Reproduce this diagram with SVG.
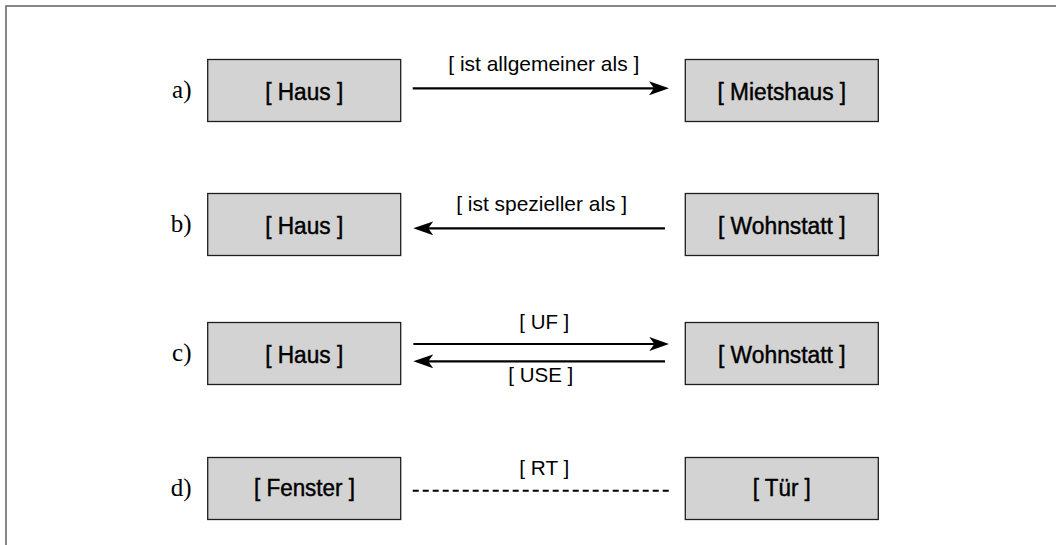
<svg xmlns="http://www.w3.org/2000/svg" width="1056" height="545" viewBox="0 0 1056 545">
  <style>
    .frame { fill: none; stroke: #6a6a6a; stroke-width: 1.6; }
    .box { fill: #d3d3d3; stroke: #1e1e1e; stroke-width: 1.3; }
    .term { font-family: "Liberation Sans", Arial, sans-serif; font-size: 23px; fill: #000; stroke: #000; stroke-width: 0.45; text-anchor: middle; }
    .tag { font-family: "Liberation Serif", "Times New Roman", serif; font-size: 25px; fill: #000; text-anchor: end; }
    .rel { font-family: "Liberation Sans", Arial, sans-serif; font-size: 21px; fill: #000; text-anchor: middle; }
    .link { fill: none; stroke: #000; stroke-width: 2.2; }
    .arrow { marker-end: url(#head); }
    .dotted { stroke-dasharray: 6 4; stroke-width: 2; }
  </style>
  <defs>
    <marker id="head" markerUnits="userSpaceOnUse" viewBox="0 0 20 14" refX="15" refY="7" markerWidth="20" markerHeight="14" orient="auto">
      <path d="M0,0 L20,7 L0,14 L5,7 Z" fill="#000"/>
    </marker>
  </defs>

  <!-- outer frame, open to the right and bottom -->
  <rect class="frame" x="6" y="6" width="1100" height="600"/>

  <!-- row labels -->
  <g id="row-labels">
    <text class="tag" x="191.5" y="98">a)</text>
    <text class="tag" x="191.5" y="232">b)</text>
    <text class="tag" x="191.5" y="361">c)</text>
    <text class="tag" x="191.5" y="496">d)</text>
  </g>

  <!-- row a -->
  <g id="a-haus">
    <rect class="box" x="207.7" y="59.5" width="193" height="62"/>
    <text class="term" x="304.2" y="99.5" textLength="78" lengthAdjust="spacingAndGlyphs">[ Haus ]</text>
  </g>
  <g id="a-mietshaus">
    <rect class="box" x="685.3" y="59.5" width="193" height="62"/>
    <text class="term" x="781.8" y="99.5" textLength="128.7" lengthAdjust="spacingAndGlyphs">[ Mietshaus ]</text>
  </g>

  <!-- row b -->
  <g id="b-haus">
    <rect class="box" x="207.7" y="193.5" width="193" height="62"/>
    <text class="term" x="304.2" y="233.5" textLength="78" lengthAdjust="spacingAndGlyphs">[ Haus ]</text>
  </g>
  <g id="b-wohnstatt">
    <rect class="box" x="685.3" y="193.5" width="193" height="62"/>
    <text class="term" x="781.8" y="233.5" textLength="127.7" lengthAdjust="spacingAndGlyphs">[ Wohnstatt ]</text>
  </g>

  <!-- row c -->
  <g id="c-haus">
    <rect class="box" x="207.7" y="322.5" width="193" height="62"/>
    <text class="term" x="304.2" y="362.5" textLength="78" lengthAdjust="spacingAndGlyphs">[ Haus ]</text>
  </g>
  <g id="c-wohnstatt">
    <rect class="box" x="685.3" y="322.5" width="193" height="62"/>
    <text class="term" x="781.8" y="362.5" textLength="127.7" lengthAdjust="spacingAndGlyphs">[ Wohnstatt ]</text>
  </g>

  <!-- row d -->
  <g id="d-fenster">
    <rect class="box" x="207.7" y="457.5" width="193" height="62"/>
    <text class="term" x="304.5" y="496" textLength="101" lengthAdjust="spacingAndGlyphs">[ Fenster ]</text>
  </g>
  <g id="d-tuer">
    <rect class="box" x="685.3" y="457.5" width="193" height="62"/>
    <text class="term" x="781.8" y="496" textLength="58" lengthAdjust="spacingAndGlyphs">[ Tür ]</text>
  </g>

  <!-- relations between the terms -->
  <g id="connectors">
    <line class="link arrow" x1="412.7" y1="88.3" x2="664" y2="88.3"/>
    <text class="rel" x="543.8" y="71" textLength="191" lengthAdjust="spacingAndGlyphs">[ ist allgemeiner als ]</text>

    <line class="link arrow" x1="665" y1="228.3" x2="418.3" y2="228.3"/>
    <text class="rel" x="541.7" y="211" textLength="171" lengthAdjust="spacingAndGlyphs">[ ist spezieller als ]</text>

    <line class="link arrow" x1="413.3" y1="344" x2="664.3" y2="344"/>
    <text class="rel" x="544.3" y="328.5" textLength="50" lengthAdjust="spacingAndGlyphs">[ UF ]</text>
    <line class="link arrow" x1="665" y1="361.3" x2="418.3" y2="361.3"/>
    <text class="rel" x="540.8" y="382" textLength="65" lengthAdjust="spacingAndGlyphs">[ USE ]</text>

    <line class="link dotted" x1="412.7" y1="490.7" x2="670" y2="490.7"/>
    <text class="rel" x="544.3" y="475" textLength="50" lengthAdjust="spacingAndGlyphs">[ RT ]</text>
  </g>
</svg>
